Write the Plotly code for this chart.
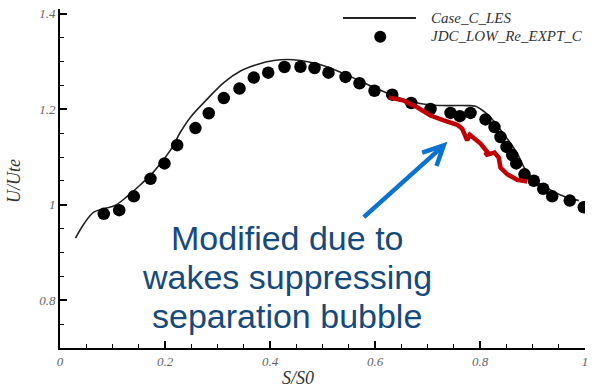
import plotly.graph_objects as go

# ---- data ----
les_s = [0.0295, 0.0467, 0.0644, 0.0834, 0.1057, 0.128, 0.1533, 0.1787, 0.2105, 0.2295,
         0.2486, 0.2804, 0.312, 0.3438, 0.3756, 0.4072, 0.4328, 0.4581, 0.4899, 0.5215,
         0.5533, 0.5914, 0.6352, 0.6733, 0.7057, 0.7375, 0.7756, 0.7914, 0.801, 0.8168,
         0.8328, 0.8518, 0.8709, 0.8867, 0.9025, 0.928, 0.9596, 0.9882]
les_u = [0.930, 0.9617, 0.9845, 0.9913, 0.999, 1.0176, 1.0419, 1.0694, 1.1144, 1.1523,
         1.1834, 1.2213, 1.256, 1.2802, 1.2939, 1.3022, 1.3043, 1.3022, 1.2953, 1.2835,
         1.2684, 1.2491, 1.2284, 1.2145, 1.2089, 1.2077, 1.2077, 1.2062, 1.2006, 1.1869,
         1.1662, 1.1384, 1.1074, 1.073, 1.0522, 1.0348, 1.0176, 1.0087]

exp_s = [0.0834, 0.1128, 0.1406, 0.1724, 0.199, 0.2232, 0.258, 0.2834, 0.312, 0.3419,
         0.3691, 0.3966, 0.4276, 0.458, 0.4848, 0.5114, 0.5438, 0.5705, 0.599, 0.6328,
         0.669, 0.7057, 0.7438, 0.7615, 0.7819, 0.8105, 0.8276, 0.839, 0.8505, 0.8613,
         0.869, 0.8848, 0.9025, 0.9204, 0.9375, 0.971, 0.9977]
exp_u = [0.981, 0.9886, 1.0176, 1.0543, 1.0866, 1.1248, 1.1606, 1.1917, 1.2234, 1.2435,
         1.2663, 1.2767, 1.2885, 1.2891, 1.2864, 1.2767, 1.2678, 1.2545, 1.2388, 1.2305,
         1.2131, 1.2006, 1.1923, 1.1855, 1.1923, 1.1787, 1.1627, 1.142, 1.1212, 1.104,
         1.0866, 1.0638, 1.0502, 1.0336, 1.0176, 1.0087, 0.9948]

mod_s = [0.6263, 0.6549, 0.6804, 0.7057, 0.731, 0.7566, 0.7661, 0.7756, 0.7806, 0.801,
         0.8137, 0.8105, 0.8276, 0.8358, 0.839, 0.8518, 0.8709, 0.8899]
mod_u = [1.2249, 1.218, 1.2042, 1.1869, 1.1766, 1.1675, 1.1592, 1.1351, 1.1467, 1.1281,
         1.1109, 1.104, 1.1094, 1.0984, 1.0777, 1.0638, 1.0522, 1.0487]

note_lines = ["Modified due to", "wakes suppressing", "separation bubble"]
legend_names = ["Case_C_LES", "JDC_LOW_Re_EXPT_C"]

arrow_tail = (0.5787, 0.9741)
arrow_tip = (0.7310, 1.1244)
arrow_arm1 = (0.6899, 1.1091)
arrow_arm2 = (0.7171, 1.0810)

serif = "Liberation Serif"
fig = go.Figure()

fig.add_trace(go.Scatter(x=les_s, y=les_u, mode="lines",
                         line=dict(color="#222222", width=1.6, shape="spline"),
                         name=legend_names[0], showlegend=False))
fig.add_trace(go.Scatter(x=exp_s, y=exp_u, mode="markers",
                         marker=dict(color="black", size=12.5),
                         name=legend_names[1], showlegend=False))
fig.add_trace(go.Scatter(x=mod_s, y=mod_u, mode="lines",
                         line=dict(color="#c00000", width=4.5),
                         showlegend=False))

# arrow (shaft + open head)
fig.add_shape(type="path", xref="x", yref="y",
              path=(f"M{arrow_tail[0]},{arrow_tail[1]} L{arrow_tip[0]},{arrow_tip[1]} "
                    f"M{arrow_arm1[0]},{arrow_arm1[1]} L{arrow_tip[0]},{arrow_tip[1]} "
                    f"L{arrow_arm2[0]},{arrow_arm2[1]}"),
              line=dict(color="#0a72d0", width=4.5))

# manual legend
fig.add_shape(type="line", xref="paper", yref="paper",
              x0=0.539, x1=0.678, y0=0.9737, y1=0.9737,
              line=dict(color="#222222", width=2))
fig.add_shape(type="circle", xref="paper", yref="paper",
              xsizemode="pixel", ysizemode="pixel",
              xanchor=0.610, yanchor=0.918, x0=-6, x1=6, y0=-6, y1=6,
              fillcolor="black", line=dict(color="black", width=0))
for name, yp in zip(legend_names, [0.974, 0.920]):
    fig.add_annotation(text=name, xref="paper", yref="paper", x=0.7037, y=yp,
                       xanchor="left", yanchor="middle", showarrow=False,
                       font=dict(family=serif, size=15, color="#333333", style="italic"))

# note text
for line, yp in zip(note_lines, [0.3246, 0.2105, 0.0936]):
    fig.add_annotation(text=line, xref="paper", yref="paper", x=0.4329, y=yp,
                       xanchor="center", yanchor="middle", showarrow=False,
                       font=dict(family="Liberation Sans", size=34, color="#174a7c"))

# axis titles
fig.add_annotation(text="S/S0", xref="paper", yref="paper", x=(298 - 59.5) / 525.5,
                   y=(348 - 378) / 342, xanchor="center", yanchor="middle", showarrow=False,
                   font=dict(family=serif, size=18, color="#333333", style="italic"))
fig.add_annotation(text="U/Ute", xref="paper", yref="paper", x=(14 - 59.5) / 525.5,
                   y=(348 - 180) / 342, xanchor="center", yanchor="middle", showarrow=False,
                   textangle=-90,
                   font=dict(family=serif, size=18, color="#333333", style="italic"))

tickfont = dict(family=serif, size=13, color="#666666", style="italic")
fig.update_xaxes(range=[0, 1], showline=True, linecolor="black", linewidth=2,
                 ticks="inside", ticklen=7, tickwidth=2, tickcolor="black",
                 tickvals=[0, 0.2, 0.4, 0.6, 0.8, 1],
                 minor=dict(dtick=0.05, ticks="inside", ticklen=4, tickwidth=1,
                            tickcolor="black", showgrid=False),
                 showgrid=False, zeroline=False, tickfont=tickfont)
fig.update_yaxes(range=[0.7, 1.41], showline=True, linecolor="black", linewidth=2,
                 ticks="inside", ticklen=7, tickwidth=2, tickcolor="black",
                 tickvals=[0.8, 1, 1.2, 1.4],
                 minor=dict(dtick=0.05, tick0=0.7, ticks="inside", ticklen=4, tickwidth=1,
                            tickcolor="black", showgrid=False),
                 showgrid=False, zeroline=False, tickfont=tickfont)

fig.update_layout(width=596, height=390, margin=dict(l=60, r=11, t=6, b=42),
                  plot_bgcolor="white", paper_bgcolor="white", showlegend=False)

fig.write_html("out.html")
